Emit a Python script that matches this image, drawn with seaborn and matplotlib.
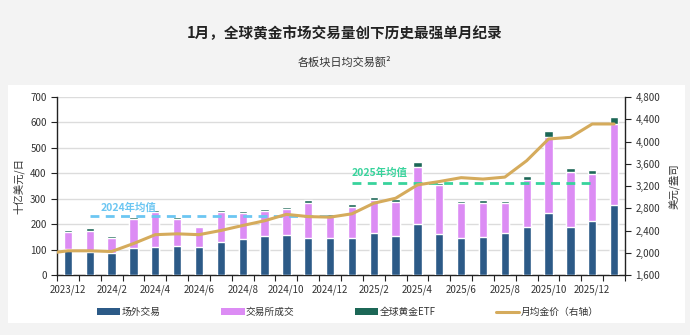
import numpy as np
import pandas as pd
import matplotlib
matplotlib.use("Agg")
import matplotlib.pyplot as plt
import seaborn as sns
from matplotlib.patches import Patch, Rectangle
from matplotlib.lines import Line2D
from matplotlib.ticker import FuncFormatter, FixedLocator

sns.set_theme(style="white")
plt.rcParams['font.family'] = ['Noto Sans CJK SC', 'DejaVu Sans']

# ---------------- data ----------------
months = ["2023/12", "2024/1", "2024/2", "2024/3", "2024/4", "2024/5", "2024/6",
          "2024/7", "2024/8", "2024/9", "2024/10", "2024/11", "2024/12",
          "2025/1", "2025/2", "2025/3", "2025/4", "2025/5", "2025/6", "2025/7",
          "2025/8", "2025/9", "2025/10", "2025/11", "2025/12", "2026/1"]
otc = [101, 89, 85, 106, 112, 113, 110, 129, 142, 152, 156, 145, 147,
       147, 166, 152, 200, 160, 147, 150, 167, 188, 244, 187, 213, 275]
exchange = [69, 86, 59, 115, 134, 108, 77, 117, 100, 101, 102, 140, 85,
            121, 129, 136, 226, 192, 135, 135, 115, 187, 297, 218, 184, 317]
etf = [7, 8, 8, 8, 10, 8, 7, 8, 9, 8, 10, 9, 8,
       11, 10, 10, 18, 9, 10, 11, 10, 15, 24, 14, 16, 30]
# monthly average gold price (USD/oz); first value is 2023/11
price_months = ["2023/11"] + months
gold_price = [1985, 2035, 2035, 2022, 2165, 2325, 2340, 2325, 2400, 2490, 2575,
              2690, 2650, 2640, 2700, 2890, 2980, 3220, 3280, 3350, 3325, 3360,
              3655, 4045, 4075, 4315, 4315]
avg_2024 = 233
avg_2025 = 362
tick_labels = ["2023/12", "2024/2", "2024/4", "2024/6", "2024/8", "2024/10",
               "2024/12", "2025/2", "2025/4", "2025/6", "2025/8", "2025/10",
               "2025/12"]
legend_labels = ["场外交易", "交易所成交", "全球黄金ETF", "月均金价（右轴）"]

# ---------------- styles ----------------
c_otc = "#2C5A87"
c_exch = "#DC8CF4"
c_etf = "#1C6756"
c_gold = "#D5AB5C"
c_avg24 = "#6CC6F2"
c_avg25 = "#38D39C"
txt = "#333333"

df = pd.DataFrame({"month": months, "otc": otc, "exchange": exchange, "etf": etf})
df["mid"] = df["otc"] + df["exchange"]
df["total"] = df["mid"] + df["etf"]

fig = plt.figure(figsize=(6.9, 3.35), dpi=100)
fig.patch.set_facecolor("#F3F3F3")
panel = Rectangle((8 / 690, 1 - 323 / 335), 677 / 690, 238 / 335,
                  transform=fig.transFigure, facecolor="white",
                  edgecolor="none", zorder=-10)
fig.add_artist(panel)

ax = fig.add_axes([57 / 690, 1 - 275 / 335, 568 / 690, 178 / 335])
ax.set_facecolor("none")

bw = 0.38
sns.barplot(data=df, x="month", y="total", order=months, color=c_etf,
            saturation=1, width=bw, ax=ax, zorder=2)
sns.barplot(data=df, x="month", y="mid", order=months, color=c_exch,
            saturation=1, width=bw, ax=ax, zorder=3)
sns.barplot(data=df, x="month", y="otc", order=months, color=c_otc,
            saturation=1, width=bw, ax=ax, zorder=4)

# yearly averages
idx24 = [i for i, m in enumerate(months) if m.startswith("2024")]
idx25 = [i for i, m in enumerate(months) if m.startswith("2025")]
ax.plot([idx24[0], idx24[-1]], [avg_2024, avg_2024], color=c_avg24, lw=2.0,
        dashes=(3.2, 2.3), zorder=6)
ax.plot([idx25[0], idx25[-1]], [avg_2025, avg_2025], color=c_avg25, lw=2.0,
        dashes=(3.2, 2.3), zorder=6)
ax.text(idx24[0] + 0.5, avg_2024 + 12, "2024年均值", color=c_avg24,
        fontsize=7.5, fontweight="bold", ha="left", va="bottom", zorder=7)
ax.text(idx25[0], avg_2025 + 20, "2025年均值", color=c_avg25,
        fontsize=7.5, fontweight="bold", ha="left", va="bottom", zorder=7)

ax.set_xlim(-0.5, len(months) - 0.5)
ax.set_ylim(0, 700)
ax.set_yticks(np.arange(0, 701, 100))
ax.yaxis.grid(True, color="#DCDCDC", lw=1)
ax.xaxis.grid(False)
ax.set_axisbelow(True)
ax.set_xlabel("")
ax.set_ylabel("十亿美元/日", fontsize=7.5, color=txt, labelpad=4)

label_pos = [months.index(t) for t in tick_labels]
ax.xaxis.set_major_locator(FixedLocator(label_pos))
ax.set_xticklabels(tick_labels)
ax.xaxis.set_minor_locator(FixedLocator(np.arange(-0.5, len(months), 1.0)))
ax.tick_params(axis="x", which="major", length=0, labelsize=7, colors=txt, pad=7)
ax.tick_params(axis="x", which="minor", length=4, direction="out", color="#222222",
               width=0.8, bottom=True)
ax.tick_params(axis="y", length=4, direction="out", labelsize=7, colors=txt,
               left=True, width=0.8, color="#222222")
for s in ["top", "right"]:
    ax.spines[s].set_visible(False)
for s in ["left", "bottom"]:
    ax.spines[s].set_color("#222222")
    ax.spines[s].set_linewidth(1.0)

# gold price on right axis
ax2 = ax.twinx()
price_x = np.arange(len(price_months)) - 1
sns.lineplot(x=price_x, y=gold_price, ax=ax2, color=c_gold, lw=2.2)
ax2.set_ylim(1600, 4800)
ax2.set_yticks(np.arange(1600, 4801, 400))
ax2.yaxis.set_major_formatter(FuncFormatter(lambda v, p: f"{int(v):,}"))
ax2.tick_params(axis="y", length=4, direction="out", labelsize=7, colors=txt,
                right=True, width=0.8, color="#222222")
ax2.set_ylabel("美元/盎司", fontsize=7.5, color=txt, labelpad=6, rotation=90)
ax2.set_xlim(-0.5, len(months) - 0.5)
ax2.grid(False)
for s in ["top", "left", "bottom"]:
    ax2.spines[s].set_visible(False)
ax2.spines["right"].set_color("#222222")
ax2.spines["right"].set_linewidth(1.0)

# titles
fig.text(0.5, 1 - 33 / 335, "1月，全球黄金市场交易量创下历史最强单月纪录",
         ha="center", va="center", fontsize=10.5, fontweight="bold", color="#222222")
fig.text(0.5, 1 - 62 / 335, "各板块日均交易额²", ha="center", va="center",
         fontsize=8, color="#333333")

# legend
handles = [Patch(facecolor=c_otc, edgecolor="none"),
           Patch(facecolor=c_exch, edgecolor="none"),
           Patch(facecolor=c_etf, edgecolor="none"),
           Line2D([0], [0], color=c_gold, lw=2.2)]
fig.legend(handles, legend_labels, loc="center", ncol=4,
           bbox_to_anchor=(348 / 690, 1 - 312 / 335), frameon=False,
           fontsize=7, handlelength=2.4, handleheight=0.7, handletextpad=0.15,
           columnspacing=6.2, labelcolor=txt)

fig.savefig("out.png", dpi=100, facecolor=fig.get_facecolor())
